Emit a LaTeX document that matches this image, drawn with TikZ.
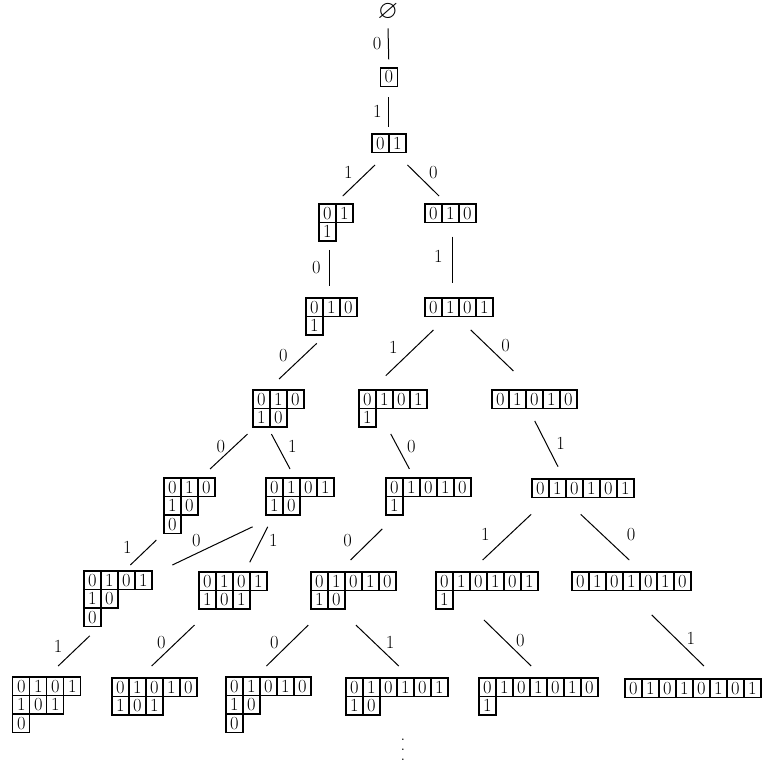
\documentclass[tikz,border=0pt]{standalone}
\usepackage{amssymb}
\usetikzlibrary{matrix}

\begin{document}
\begin{tikzpicture}[
  x=1pt,y=-1pt,
  font=\fontsize{18.5}{20}\selectfont,
  tab/.style={
    matrix of nodes,
    anchor=north west,
    inner sep=0pt,
    outer sep=0pt,
    column sep=-1.5pt,
    row sep=-1.5pt,
    nodes={draw, line width=1.5pt, inner sep=0pt,
      minimum width=17pt, minimum height=18.5pt}
  },
  branch/.style={
    line width=1pt
  },
  lbl/.style={
    inner sep=0pt
  },
]
\useasboundingbox (0,0) rectangle (763,769);
\node[inner sep=0pt] (e) at (388,12) {\scalebox{1.4}{$\varnothing$}};
\matrix[tab] (t0) at (379.5,67) {0 \\};
\matrix[tab] (t01) at (371,133) {0 & 1 \\};
\matrix[tab] (t01-1) at (318,203) {0 & 1 \\ 1 \\};
\matrix[tab] (t010) at (424,203) {0 & 1 & 0 \\};
\matrix[tab] (t010-1) at (305,297) {0 & 1 & 0 \\ 1 \\};
\matrix[tab] (t0101) at (424,297) {0 & 1 & 0 & 1 \\};
\matrix[tab] (t010-10) at (252,389) {0 & 1 & 0 \\ 1 & 0 \\};
\matrix[tab] (t0101-1) at (358,389) {0 & 1 & 0 & 1 \\ 1 \\};
\matrix[tab] (t01010) at (491,389) {0 & 1 & 0 & 1 & 0 \\};
\matrix[tab] (t010-10-0) at (163,477) {0 & 1 & 0 \\ 1 & 0 \\ 0 \\};
\matrix[tab] (t0101-10) at (265,477) {0 & 1 & 0 & 1 \\ 1 & 0 \\};
\matrix[tab] (t01010-1) at (385,477) {0 & 1 & 0 & 1 & 0 \\ 1 \\};
\matrix[tab] (t010101) at (531,478) {0 & 1 & 0 & 1 & 0 & 1 \\};
\matrix[tab] (t0101-10-0) at (83,570) {0 & 1 & 0 & 1 \\ 1 & 0 \\ 0 \\};
\matrix[tab] (t0101-101) at (198,571) {0 & 1 & 0 & 1 \\ 1 & 0 & 1 \\};
\matrix[tab] (t01010-10) at (310,571) {0 & 1 & 0 & 1 & 0 \\ 1 & 0 \\};
\matrix[tab] (t010101-1) at (435,571) {0 & 1 & 0 & 1 & 0 & 1 \\ 1 \\};
\matrix[tab] (t0101010) at (571,571) {0 & 1 & 0 & 1 & 0 & 1 & 0 \\};
\matrix[tab] (t0101-101-0) at (12,676) {0 & 1 & 0 & 1 \\ 1 & 0 & 1 \\ 0 \\};
\matrix[tab] (t01010-101) at (111,677) {0 & 1 & 0 & 1 & 0 \\ 1 & 0 & 1 \\};
\matrix[tab] (t01010-10-0) at (225,676) {0 & 1 & 0 & 1 & 0 \\ 1 & 0 \\ 0 \\};
\matrix[tab] (t010101-10) at (345,677) {0 & 1 & 0 & 1 & 0 & 1 \\ 1 & 0 \\};
\matrix[tab] (t0101010-1) at (478,677) {0 & 1 & 0 & 1 & 0 & 1 & 0 \\ 1 \\};
\matrix[tab] (t01010101) at (624,678) {0 & 1 & 0 & 1 & 0 & 1 & 0 & 1 \\};
\node[inner sep=0pt] (more) at (403,750) {\vbox{\baselineskip10pt\lineskiplimit0pt\hbox{.}\hbox{.}\hbox{.}}};

\draw[branch] ([yshift=-16.3pt]e.center) -- node[lbl,xshift=-11.3pt] {0} ([yshift=7.7pt]t0.north);
\draw[branch] ([yshift=-10.2pt]t0.south) -- node[lbl,xshift=-11.3pt,yshift=1pt] {1} ([yshift=6.3pt]t01.north);
\draw[branch] ([xshift=-13.7pt,yshift=-11.8pt]t01.south) -- node[lbl,xshift=-10.5pt,yshift=8pt] {1} ([xshift=7pt,yshift=7pt]t01-1.north);
\draw[branch] ([xshift=18.7pt,yshift=-11.8pt]t01.south) -- node[lbl,xshift=10.2pt,yshift=8pt] {0} ([xshift=-11.2pt,yshift=7pt]t010.north);
\draw[branch] ([xshift=-6pt,yshift=-8.3pt]t01-1.south) -- node[lbl,xshift=-13.3pt] {0} ([xshift=-1.5pt,yshift=11.3pt]t010-1.north);
\draw[branch] ([xshift=2.5pt,yshift=-13.5pt]t010.south) -- node[lbl,xshift=-14.3pt,yshift=3pt] {1} ([xshift=-6pt,yshift=14.3pt]t0101.north);
\draw[branch] ([xshift=-14.5pt,yshift=-7.7pt]t010-1.south) -- node[lbl,xshift=-14.5pt,yshift=6pt] {0} ([xshift=0.8pt,yshift=10pt]t010-10.north);
\draw[branch] ([xshift=-25.3pt,yshift=-12.8pt]t0101.south) -- node[lbl,xshift=-16.2pt,yshift=5.3pt] {1} ([xshift=-7pt,yshift=13.3pt]t0101-1.north);
\draw[branch] ([xshift=12pt,yshift=-12.8pt]t0101.south) -- node[lbl,xshift=13.6pt,yshift=4.7pt] {0} ([xshift=-20.8pt,yshift=18pt]t01010.north);
\draw[branch] ([xshift=-30.8pt,yshift=-6.3pt]t010-10.south) -- node[lbl,xshift=-8pt,yshift=4.7pt] {0} ([xshift=20.8pt,yshift=8pt]t010-10-0.north);
\draw[branch] ([xshift=-6.8pt,yshift=-6.3pt]t010-10.south) -- node[lbl,xshift=11.7pt,yshift=4.7pt] {1} ([xshift=-9.7pt,yshift=8pt]t0101-10.north);
\draw[branch] ([xshift=-2pt,yshift=-6.3pt]t0101-1.south) -- node[lbl,xshift=11.3pt,yshift=4.7pt] {0} ([xshift=-18.8pt,yshift=8pt]t01010-1.north);
\draw[branch] ([xshift=0.5pt,yshift=-11.8pt]t01010.south) -- node[lbl,xshift=14.3pt] {1} ([xshift=-24.7pt,yshift=11.3pt]t010101.north);
\draw[branch] ([xshift=-32.9pt,yshift=-5.8pt]t010-10-0.south) -- node[lbl,xshift=-16pt,yshift=5pt] {1} ([xshift=12.6pt,yshift=5pt]t0101-10-0.north);
\draw[branch] ([xshift=-47.2pt,yshift=-11pt]t0101-10.south) -- node[lbl,xshift=-16pt,yshift=5pt] {0} ([xshift=54.6pt,yshift=5pt]t0101-10-0.north);
\draw[branch] ([xshift=-32pt,yshift=-11pt]t0101-10.south) -- node[lbl,xshift=14.7pt,yshift=3.7pt] {1} ([xshift=17pt,yshift=8.7pt]t0101-101.north);
\draw[branch] ([xshift=-46pt,yshift=-13.3pt]t01010-1.south) -- node[lbl,xshift=-18.7pt,yshift=3.7pt] {0} ([xshift=-2.7pt,yshift=11pt]t01010-10.north);
\draw[branch] ([xshift=-51.6pt,yshift=-16.2pt]t010101.south) -- node[lbl,xshift=-21.6pt,yshift=3pt] {1} ([xshift=-4.1pt,yshift=11pt]t010101-1.north);
\draw[branch] ([xshift=-2pt,yshift=-16.2pt]t010101.south) -- node[lbl,xshift=26pt,yshift=3pt] {0} ([xshift=-2pt,yshift=11pt]t0101010.north);
\draw[branch] ([xshift=-28pt,yshift=-8.5pt]t0101-10-0.south) -- node[lbl,xshift=-15.8pt,yshift=5pt] {1} ([xshift=11.4pt,yshift=10pt]t0101-101-0.north);
\draw[branch] ([xshift=-38.3pt,yshift=-15.3pt]t0101-101.south) -- node[lbl,xshift=-11.7pt,yshift=3pt] {0} ([xshift=-2.6pt,yshift=11pt]t01010-101.north);
\draw[branch] ([xshift=-45pt,yshift=-15.3pt]t01010-10.south) -- node[lbl,xshift=-13pt,yshift=3pt] {0} ([xshift=-1.8pt,yshift=10pt]t01010-10-0.north);
\draw[branch] ([xshift=2.7pt,yshift=-15.3pt]t01010-10.south) -- node[lbl,xshift=12.7pt,yshift=3pt] {1} ([xshift=2pt,yshift=11pt]t010101-10.north);
\draw[branch] ([xshift=-2.8pt,yshift=-10.3pt]t010101-1.south) -- node[lbl,xshift=12.9pt,yshift=2.2pt] {0} ([xshift=-7.1pt,yshift=11pt]t0101010-1.north);
\draw[branch] ([xshift=20.5pt,yshift=-23.8pt]t0101010.south) -- node[lbl,xshift=12.9pt,yshift=2.4pt] {1} ([xshift=11.2pt,yshift=12pt]t01010101.north);
\end{tikzpicture}
\end{document}
